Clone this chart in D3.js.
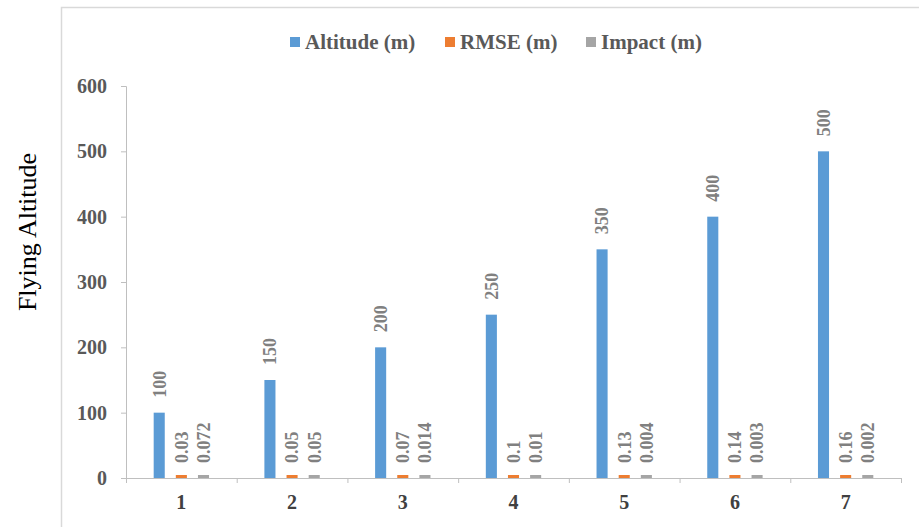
<!DOCTYPE html>
<html>
<head>
<meta charset="utf-8">
<script src="https://cdn.jsdelivr.net/npm/d3@7"></script>
<style>
  body { margin: 0; background: #fff; }
  svg { display: block; }
</style>
</head>
<body>
<div id="chart"></div>
<script>
const categories = ["1", "2", "3", "4", "5", "6", "7"];
const seriesNames = ["Altitude (m)", "RMSE (m)", "Impact (m)"];
const altitude = [100, 150, 200, 250, 350, 400, 500];
const rmse = [0.03, 0.05, 0.07, 0.1, 0.13, 0.14, 0.16];
const impact = [0.072, 0.05, 0.014, 0.01, 0.004, 0.003, 0.002];
const yTicks = [0, 100, 200, 300, 400, 500, 600];
const colors = ["#5b9bd5", "#ed7d31", "#a5a5a5"];

const width = 919, height = 527;
const margin = {top: 86, right: 18, bottom: 49, left: 126};
const serif = "Liberation Serif";

const rows = categories.map((c, i) => ({
    cat: c,
    values: [altitude[i], rmse[i], impact[i]]
}));

const svg = d3.select("#chart").append("svg")
    .attr("width", width)
    .attr("height", height);

// outer frame (left and top edges)
svg.append("path")
    .attr("d", `M61.5,${height}V7.5H${width}`)
    .attr("fill", "none")
    .attr("stroke", "#d9d9d9")
    .attr("stroke-width", 1.5);

const x = d3.scaleBand()
    .domain(categories)
    .range([margin.left, width - margin.right])
    .padding(0);

const bw = x.bandwidth();
const xSub = d3.scaleBand()
    .domain(d3.range(seriesNames.length))
    .range([bw * 0.2, bw * 0.8])
    .paddingInner(0.5)
    .paddingOuter(0.25);

const y = d3.scaleLinear()
    .domain([0, 600])
    .range([height - margin.bottom, margin.top]);

// y axis
const yAxis = svg.append("g")
    .attr("transform", `translate(${margin.left},0)`)
    .call(d3.axisLeft(y).tickValues(yTicks).tickSize(5).tickPadding(14));
yAxis.select(".domain").attr("stroke", "#bfbfbf");
yAxis.selectAll(".tick line").attr("stroke", "#bfbfbf");
yAxis.selectAll(".tick text")
    .attr("fill", "#595959")
    .attr("font-family", serif)
    .attr("font-size", 20)
    .attr("font-weight", "bold");

// x axis
const xAxis = svg.append("g")
    .attr("transform", `translate(0,${y(0)})`)
    .call(d3.axisBottom(x).tickSize(0).tickPadding(17));
xAxis.select(".domain").attr("stroke", "#bfbfbf");
xAxis.selectAll(".tick text")
    .attr("fill", "#404040")
    .attr("font-family", serif)
    .attr("font-size", 20)
    .attr("font-weight", "bold");
// boundary tick marks between categories
xAxis.selectAll(".sep")
    .data(categories.concat(["end"]))
    .join("line")
    .attr("class", "sep")
    .attr("x1", (d, i) => margin.left + i * bw + 0.5)
    .attr("x2", (d, i) => margin.left + i * bw + 0.5)
    .attr("y1", 0)
    .attr("y2", 5)
    .attr("stroke", "#bfbfbf");

// bars
const group = svg.append("g")
    .selectAll("g")
    .data(rows)
    .join("g")
    .attr("transform", d => `translate(${x(d.cat)},0)`);

const minH = [0, 3, 3];
group.selectAll("rect")
    .data(d => d.values.map((v, k) => ({v, k})))
    .join("rect")
    .attr("x", d => xSub(d.k))
    .attr("width", xSub.bandwidth())
    .attr("y", d => y(0) - Math.max(y(0) - y(d.v), minH[d.k]))
    .attr("height", d => Math.max(y(0) - y(d.v), minH[d.k]))
    .attr("fill", d => colors[d.k]);

// data labels, rotated
group.selectAll("text")
    .data(d => d.values.map((v, k) => ({v, k})))
    .join("text")
    .attr("transform", d => `translate(${xSub(d.k) + xSub.bandwidth() / 2},${y(d.v) - 15}) rotate(-90)`)
    .attr("dy", "0.35em")
    .attr("text-anchor", "start")
    .attr("fill", "#808080")
    .attr("font-family", serif)
    .attr("font-size", 18)
    .attr("font-weight", "bold")
    .text(d => String(d.v));

// legend
const legendX = [290, 445, 586];
const legend = svg.append("g")
    .selectAll("g")
    .data(seriesNames)
    .join("g")
    .attr("transform", (d, i) => `translate(${legendX[i]},42)`);
legend.append("rect")
    .attr("x", 0).attr("y", -5)
    .attr("width", 10).attr("height", 10)
    .attr("fill", (d, i) => colors[i]);
legend.append("text")
    .attr("x", 15)
    .attr("dy", "0.35em")
    .attr("fill", "#595959")
    .attr("font-family", serif)
    .attr("font-size", 21)
    .attr("font-weight", "bold")
    .text(d => d);

// y title
svg.append("text")
    .attr("transform", `translate(27,232) rotate(-90)`)
    .attr("text-anchor", "middle")
    .attr("dy", "0.35em")
    .attr("fill", "#000")
    .attr("font-family", serif)
    .attr("font-size", 26)
    .text("Flying Altitude");
</script>
</body>
</html>
